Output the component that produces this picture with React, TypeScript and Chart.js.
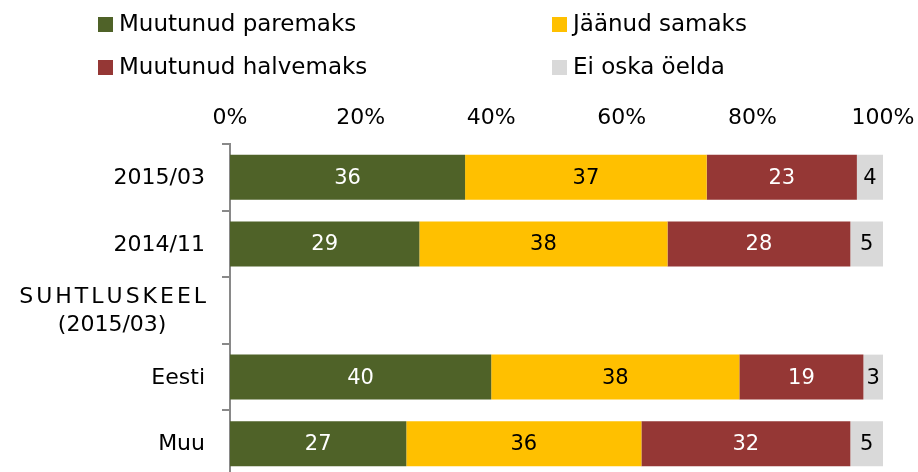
import React, { useEffect, useRef } from 'react';
import { Chart, registerables } from 'chart.js';

Chart.register(...registerables);

const categories: (string | string[])[] = ['2015/03', '2014/11', ['SUHTLUSKEEL', '(2015/03)'], 'Eesti', 'Muu'];
const seriesNames = ['Muutunud paremaks', 'Jäänud samaks', 'Muutunud halvemaks', 'Ei oska öelda'];
const better = [36, 29, null, 40, 27];
const same = [37, 38, null, 38, 36];
const worse = [23, 28, null, 19, 32];
const dontKnow = [4, 5, null, 3, 5];
const xTicks = [0, 20, 40, 60, 80, 100];

const seriesColors = ['#4F6228', '#FFC000', '#953735', '#D9D9D9'];
const valueColors = ['#FFFFFF', '#000000', '#FFFFFF', '#000000'];
const FONT = '"DejaVu Sans", sans-serif';

const valueLabelsPlugin = {
  id: 'valueLabels',
  afterDatasetsDraw(chart: any) {
    const ctx = chart.ctx;
    ctx.save();
    ctx.font = `21px ${FONT}`;
    ctx.textAlign = 'center';
    ctx.textBaseline = 'middle';
    chart.data.datasets.forEach((ds: any, di: number) => {
      const meta = chart.getDatasetMeta(di);
      meta.data.forEach((el: any, i: number) => {
        const v = ds.data[i];
        if (v === null || v === undefined) return;
        const p = el.getCenterPoint();
        ctx.fillStyle = valueColors[di];
        ctx.fillText(String(v), p.x, p.y + 1);
      });
    });
    ctx.restore();
  },
};

const categoryLabelsPlugin = {
  id: 'categoryLabels',
  afterDraw(chart: any) {
    const ctx = chart.ctx;
    const y = chart.scales.y;
    const rightEdge = y.right - 8 - 17;
    const lineHeight = 28;
    ctx.save();
    ctx.font = `22px ${FONT}`;
    ctx.fillStyle = '#000000';
    ctx.textAlign = 'left';
    ctx.textBaseline = 'middle';
    const spacingFor = (l: string) => (/^[A-ZÕÄÖÜ]{4,}$/.test(l) ? 3 : 0);
    const widthOf = (l: string) => {
      const sp = spacingFor(l);
      return ctx.measureText(l).width + sp * (l.length - 1);
    };
    const drawSpaced = (l: string, x: number, yy: number) => {
      const sp = spacingFor(l);
      if (!sp) {
        ctx.fillText(l, x, yy);
        return;
      }
      let cx = x;
      for (const ch of l) {
        ctx.fillText(ch, cx, yy);
        cx += ctx.measureText(ch).width + sp;
      }
    };
    categories.forEach((label, i) => {
      const lines = Array.isArray(label) ? label : [label];
      const maxW = Math.max(...lines.map(widthOf));
      const cx = rightEdge - maxW / 2;
      const cy = y.getPixelForValue(i);
      lines.forEach((line, j) => {
        const w = widthOf(line);
        drawSpaced(line, cx - w / 2, cy + (j - (lines.length - 1) / 2) * lineHeight + 1);
      });
    });
    ctx.restore();
  },
};

const gridLegendPlugin = {
  id: 'gridLegend',
  afterDraw(chart: any) {
    const ctx = chart.ctx;
    const colX = [98, 552];
    const rowY = [24, 67];
    ctx.save();
    ctx.font = `23px ${FONT}`;
    ctx.textAlign = 'left';
    ctx.textBaseline = 'middle';
    chart.data.datasets.forEach((ds: any, i: number) => {
      const x = colX[i % 2];
      const yy = rowY[Math.floor(i / 2)];
      ctx.fillStyle = ds.backgroundColor;
      ctx.fillRect(x, yy - 7, 15, 15);
      ctx.fillStyle = '#000000';
      ctx.fillText(ds.label, x + 21, yy + 1);
    });
    ctx.restore();
  },
};

export default function App() {
  const canvasRef = useRef<HTMLCanvasElement | null>(null);

  useEffect(() => {
    if (!canvasRef.current) return;
    const seriesData = [better, same, worse, dontKnow];
    const chart = new Chart(canvasRef.current, {
      type: 'bar',
      data: {
        labels: categories.map((c) => (Array.isArray(c) ? c.join(' ') : c)),
        datasets: seriesNames.map((name, i) => ({
          label: name,
          data: seriesData[i] as any,
          backgroundColor: seriesColors[i],
          borderWidth: 0,
          barPercentage: 0.675,
          categoryPercentage: 1,
        })),
      },
      options: {
        indexAxis: 'y',
        animation: false,
        responsive: false,
        devicePixelRatio: 1,
        layout: { padding: { top: 0, left: 0, right: 35, bottom: 3 } },
        plugins: {
          legend: { display: false },
          tooltip: { enabled: false },
        },
        scales: {
          x: {
            position: 'top',
            stacked: true,
            min: 0,
            max: 100,
            grid: { display: false, drawTicks: false },
            border: { display: false },
            ticks: {
              padding: 13,
              color: '#000000',
              font: { family: FONT, size: 22 },
              maxRotation: 0,
              autoSkip: false,
              callback: (v: any) => `${v}%`,
            },
            afterBuildTicks: (s: any) => {
              s.ticks = xTicks.map((v) => ({ value: v }));
            },
            afterFit: (s: any) => {
              s.height = 144;
              s.paddingLeft = 0;
              s.paddingRight = 0;
            },
          },
          y: {
            stacked: true,
            grid: {
              offset: true,
              drawOnChartArea: false,
              drawTicks: true,
              tickLength: 8,
              color: '#898989',
              lineWidth: 2,
            },
            border: { display: true, color: '#898989', width: 2 },
            ticks: { display: false },
            afterFit: (s: any) => {
              s.width = 230;
              s.paddingTop = 0;
              s.paddingBottom = 0;
            },
          },
        },
      } as any,
      plugins: [valueLabelsPlugin, categoryLabelsPlugin, gridLegendPlugin],
    });
    return () => chart.destroy();
  }, []);

  return (
    <div
      style={{
        position: 'absolute',
        left: 0,
        top: 0,
        width: 918,
        height: 472,
        overflow: 'hidden',
        background: '#ffffff',
      }}
    >
      <canvas ref={canvasRef} width={918} height={480} style={{ display: 'block' }} />
    </div>
  );
}
